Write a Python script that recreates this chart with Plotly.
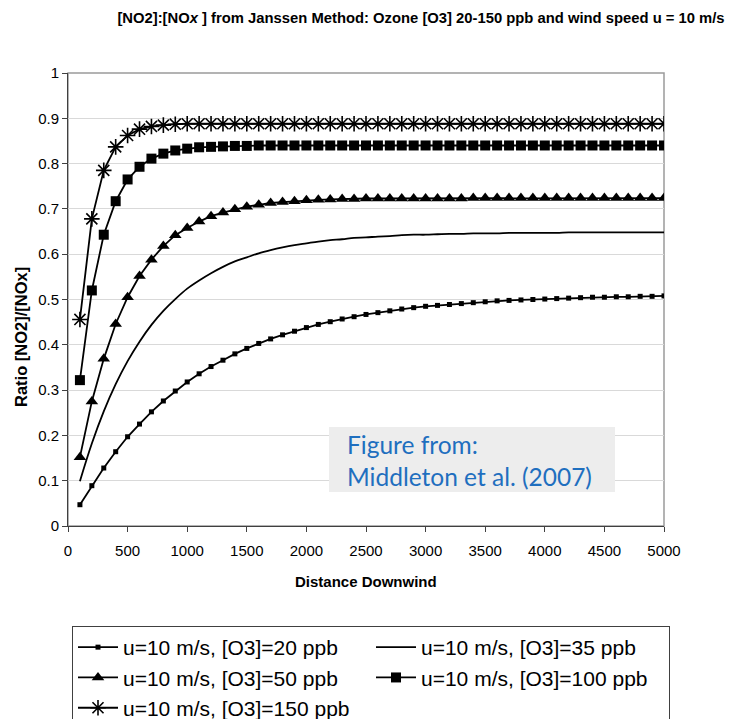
import plotly.graph_objects as go

# ---- data ----
distance = [100, 200, 300, 400, 500, 600, 700, 800, 900, 1000,
            1100, 1200, 1300, 1400, 1500, 1600, 1700, 1800, 1900, 2000,
            2100, 2200, 2300, 2400, 2500, 2600, 2700, 2800, 2900, 3000,
            3100, 3200, 3300, 3400, 3500, 3600, 3700, 3800, 3900, 4000,
            4100, 4200, 4300, 4400, 4500, 4600, 4700, 4800, 4900, 5000]

o3_20 = [0.047, 0.089, 0.128, 0.164, 0.197, 0.225, 0.252, 0.276, 0.298, 0.318,
         0.336, 0.352, 0.366, 0.380, 0.392, 0.403, 0.413, 0.422, 0.430, 0.438,
         0.445, 0.451, 0.457, 0.462, 0.467, 0.471, 0.475, 0.479, 0.482, 0.485,
         0.487, 0.489, 0.491, 0.493, 0.495, 0.497, 0.498, 0.499, 0.500, 0.501,
         0.502, 0.503, 0.504, 0.505, 0.505, 0.506, 0.506, 0.507, 0.507, 0.508]

o3_35 = [0.099, 0.182, 0.253, 0.313, 0.364, 0.407, 0.444, 0.475, 0.501, 0.524,
         0.542, 0.558, 0.572, 0.584, 0.593, 0.602, 0.609, 0.615, 0.620, 0.624,
         0.628, 0.631, 0.633, 0.636, 0.637, 0.639, 0.640, 0.642, 0.643, 0.643,
         0.644, 0.645, 0.645, 0.646, 0.646, 0.646, 0.647, 0.647, 0.647, 0.647,
         0.647, 0.648, 0.648, 0.648, 0.648, 0.648, 0.648, 0.648, 0.648, 0.648]

o3_50 = [0.152, 0.275, 0.369, 0.446, 0.505, 0.552, 0.588, 0.618, 0.642, 0.658,
         0.672, 0.684, 0.692, 0.699, 0.705, 0.709, 0.713, 0.715, 0.717, 0.719,
         0.720, 0.721, 0.722, 0.722, 0.723, 0.723, 0.723, 0.723, 0.723, 0.723,
         0.723, 0.723, 0.723, 0.724, 0.724, 0.724, 0.724, 0.724, 0.724, 0.724,
         0.724, 0.724, 0.724, 0.724, 0.724, 0.724, 0.724, 0.724, 0.724, 0.724]

o3_100 = [0.322, 0.520, 0.643, 0.717, 0.765, 0.793, 0.811, 0.822, 0.829, 0.833,
          0.836, 0.837, 0.838, 0.839, 0.839, 0.840, 0.840, 0.840, 0.840, 0.840,
          0.840, 0.840, 0.840, 0.840, 0.840, 0.840, 0.840, 0.840, 0.840, 0.840,
          0.840, 0.840, 0.840, 0.840, 0.840, 0.840, 0.840, 0.840, 0.840, 0.840,
          0.840, 0.840, 0.840, 0.840, 0.840, 0.840, 0.840, 0.840, 0.840, 0.840]

o3_150 = [0.456, 0.678, 0.785, 0.837, 0.862, 0.876, 0.882, 0.885, 0.887, 0.888,
          0.888, 0.888, 0.888, 0.888, 0.888, 0.888, 0.888, 0.888, 0.888, 0.888,
          0.888, 0.888, 0.888, 0.888, 0.888, 0.888, 0.888, 0.888, 0.888, 0.888,
          0.888, 0.888, 0.888, 0.888, 0.888, 0.888, 0.888, 0.888, 0.888, 0.888,
          0.888, 0.888, 0.888, 0.888, 0.888, 0.888, 0.888, 0.888, 0.888, 0.888]

series_names = ["u=10 m/s, [O3]=20 ppb", "u=10 m/s, [O3]=35 ppb",
                "u=10 m/s, [O3]=50 ppb", "u=10 m/s, [O3]=100 ppb",
                "u=10 m/s, [O3]=150 ppb"]

FONT = "Liberation Sans, Arial, sans-serif"
BLACK = "#000000"
LW = 1.8

fig = go.Figure()

fig.add_trace(go.Scatter(x=distance, y=o3_20, name=series_names[0], mode="lines+markers",
                         line=dict(color=BLACK, width=LW),
                         marker=dict(symbol="square", size=5, color=BLACK)))
fig.add_trace(go.Scatter(x=distance, y=o3_35, name=series_names[1], mode="lines",
                         line=dict(color=BLACK, width=LW, shape="spline")))
fig.add_trace(go.Scatter(x=distance, y=o3_50, name=series_names[2], mode="lines+markers",
                         line=dict(color=BLACK, width=LW),
                         marker=dict(symbol="triangle-up", size=11, color=BLACK)))
fig.add_trace(go.Scatter(x=distance, y=o3_100, name=series_names[3], mode="lines+markers",
                         line=dict(color=BLACK, width=LW),
                         marker=dict(symbol="square", size=10, color=BLACK)))
fig.add_trace(go.Scatter(x=distance, y=o3_150, name=series_names[4], mode="lines+markers",
                         line=dict(color=BLACK, width=LW),
                         marker=dict(symbol="asterisk-open", size=13, color=BLACK,
                                     line=dict(color=BLACK, width=1.6))))

# The page body has an 8px margin, so the figure starts at page pixel (8, 8).
OFF = 8
W, H = 735 - OFF, 719 - OFF
PL, PR, PT, PB = 68, 664, 73, 526          # plot area in page pixels
L, R, T, B = PL - OFF, 735 - PR, PT - OFF, 719 - PB
pw = PR - PL
ph = PB - PT


def px_x(p):
    return (p - PL) / pw


def px_y(p):
    return (PB - p) / ph


def cx(p):
    return (p - OFF) / W


def cy(p):
    return 1 - (p - OFF) / H


fig.update_layout(
    width=W, height=H,
    margin=dict(l=L, r=R, t=T, b=B, pad=0, autoexpand=False),
    paper_bgcolor="white", plot_bgcolor="white",
    font=dict(family=FONT, color=BLACK, size=15),
    title=dict(text="<b>[NO2]:[NO<i>x</i> ] from Janssen Method: Ozone [O3] 20-150 ppb and wind speed u = 10 m/s</b>",
               x=cx(421), xref="container", xanchor="center",
               y=cy(18), yref="container", yanchor="middle",
               font=dict(family=FONT, size=14.8, color=BLACK)),
    xaxis=dict(range=[0, 5000], tick0=0, dtick=500, showgrid=False, zeroline=False,
               showline=True, linecolor="#404040", linewidth=1,
               ticks="outside", ticklen=5, tickcolor="#404040",
               tickfont=dict(size=15, family=FONT), ticklabelstandoff=6),
    yaxis=dict(range=[0, 1], tick0=0, dtick=0.1, showgrid=True, gridcolor="#d9d9d9",
               gridwidth=1, zeroline=False,
               showline=True, linecolor="#404040", linewidth=1,
               ticks="outside", ticklen=5, tickcolor="#404040",
               tickfont=dict(size=15, family=FONT)),
    legend=dict(orientation="h", xref="container", x=cx(72), xanchor="left",
                yref="container", y=cy(626), yanchor="top",
                bordercolor="#404040", borderwidth=1, bgcolor="white",
                font=dict(size=21, family=FONT, color=BLACK),
                itemwidth=40,
                entrywidth=243, entrywidthmode="pixels", traceorder="normal"),
    showlegend=True,
)

# plot-area frame (gray top/right borders)
fig.add_shape(type="rect", xref="paper", yref="paper", x0=0, x1=1, y0=0, y1=1,
              line=dict(color="#9a9a9a", width=1.5), layer="below")

# axis titles
fig.add_annotation(text="<b>Distance Downwind</b>", xref="paper", yref="paper",
                   x=px_x(366), y=px_y(581), xanchor="center", yanchor="middle",
                   showarrow=False, font=dict(family=FONT, size=15, color=BLACK))
fig.add_annotation(text="<b>Ratio [NO2]/[NOx]</b>", xref="paper", yref="paper",
                   x=px_x(21), y=px_y(337), xanchor="center", yanchor="middle",
                   textangle=-90, showarrow=False,
                   font=dict(family=FONT, size=16.5, color=BLACK))

# source box
fig.add_shape(type="rect", xref="paper", yref="paper",
              x0=px_x(329), x1=px_x(615), y0=px_y(492), y1=px_y(427),
              fillcolor="#ededed", line=dict(width=0), layer="above")
fig.add_annotation(text="Figure from:<br>Middleton et al. (2007)", xref="paper", yref="paper",
                   x=px_x(345), y=px_y(460), xanchor="left", yanchor="middle", align="left",
                   showarrow=False, font=dict(family="Lato, Open Sans, sans-serif", size=24.5,
                                              color="#1f6fbf"))

fig.write_html("out.html")
